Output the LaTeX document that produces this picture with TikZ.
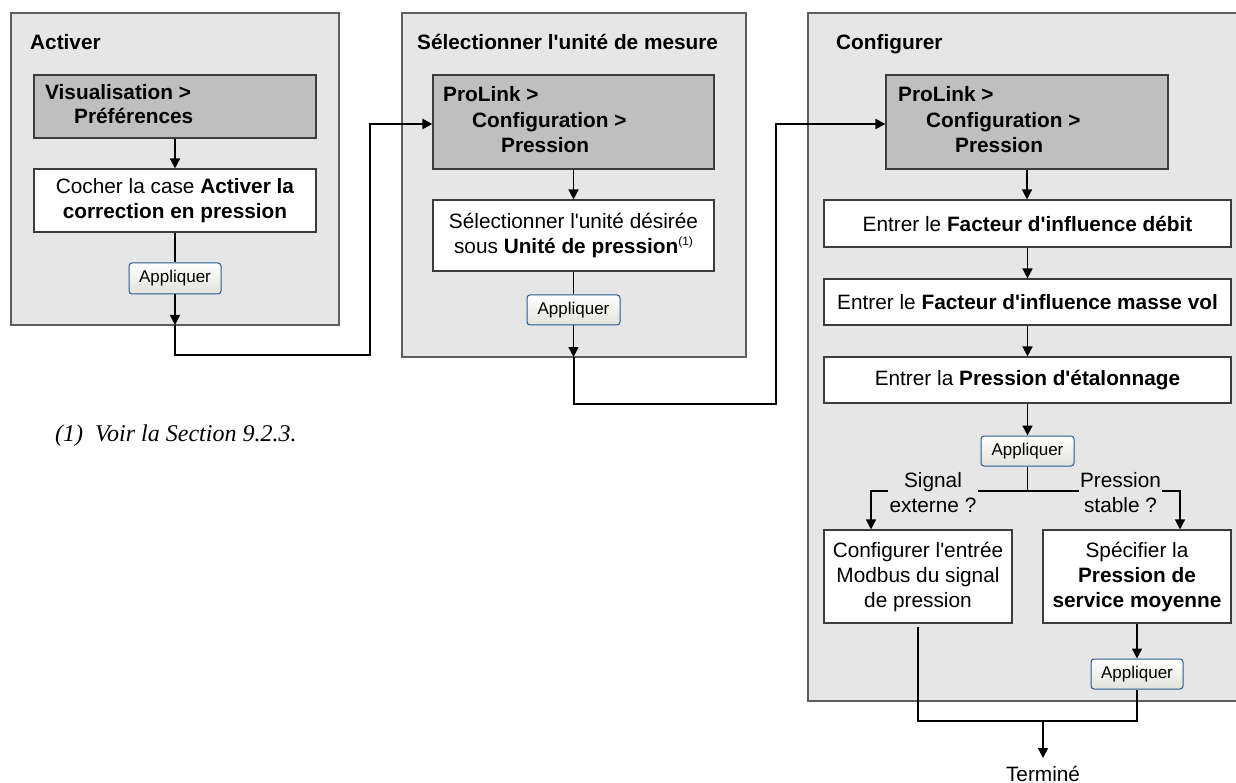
\documentclass[tikz,border=0pt]{standalone}
\usepackage{fontspec}
\setmainfont{Liberation Sans}[Ligatures=TeXOff]
\newfontfamily\serifit{Liberation Serif}
\usetikzlibrary{arrows.meta}
\definecolor{panelfill}{HTML}{E6E6E6}
\definecolor{panelline}{HTML}{5E5E5E}
\definecolor{grayfill}{HTML}{BFBFBF}
\definecolor{boxline}{HTML}{3C3C3C}
\definecolor{btnline}{HTML}{2A5A8C}
\definecolor{btnbot}{HTML}{E2E2DA}
\begin{document}
\begin{tikzpicture}[x=1pt,y=-1pt,
  txt/.style={font=\fontsize{20.8}{25}\selectfont},
  panel/.style={draw=panelline,fill=panelfill,line width=1.6pt},
  graybox/.style={draw=boxline,fill=grayfill,line width=1.1pt,inner sep=0pt},
  whitebox/.style={draw=boxline,fill=white,line width=1.1pt,inner sep=0pt,align=center,txt},
  btn/.style={draw=btnline,line width=1pt,rounded corners=3pt,top color=white,bottom color=btnbot,
     inner sep=0pt,font=\fontsize{17}{20}\selectfont},
  title/.style={anchor=base west,inner sep=0pt,font=\bfseries\fontsize{20.8}{25}\selectfont},
  arr/.style={line width=1.4pt,draw=black,-{Triangle[length=10pt,width=10pt]}},
  conn/.style={line width=1.4pt,draw=black},
  outer/.style={line width=2pt,draw=black,-{Triangle[length=10pt,width=10pt]}},
  lbl/.style={fill=panelfill,inner xsep=1.5pt,inner ysep=0pt,align=center,txt}
]
\useasboundingbox (0,0) rectangle (1236,783);
\clip (0,0) rectangle (1236,783);
\fill[white] (0,0) rectangle (1236,783);

% panels
\draw[panel] (11,13) rectangle (339,325);
\draw[panel] (402,13) rectangle (746,357);
\draw[panel] (808,13) rectangle (1260,701);

\node[title] (t1) at (30,50) {Activer};
\node[title] (t2) at (417,50) {Sélectionner l'unité de mesure};
\node[title] (t3) at (836,50) {Configurer};

% panel 1
\node[graybox,minimum width=282,minimum height=63] (G1) at (175,106.5) {};
\node[title] (g1a) at (45,100) {Visualisation >};
\node[title] (g1b) at (74,124) {Préférences};
\node[whitebox,minimum width=282,minimum height=63] (W1) at (175,200.5)
  {Cocher la case \textbf{Activer la}\\\textbf{correction en pression}};
\node[btn,minimum width=92,minimum height=31] (B1) at (175,278.5) {Appliquer};

% panel 2
\node[graybox,minimum width=281,minimum height=94] (G2) at (573.5,122) {};
\node[title] (g2a) at (443,102) {ProLink >};
\node[title] (g2b) at (472,128) {Configuration >};
\node[title] (g2c) at (501,153) {Pression};
\node[whitebox,minimum width=281,minimum height=71] (W2) at (573.5,235.5)
  {Sélectionner l'unité désirée\\sous \textbf{Unité de pression}\raisebox{8pt}{\fontsize{12}{12}\selectfont(1)}};
\node[btn,minimum width=93,minimum height=30] (B2) at (573.5,310) {Appliquer};

% panel 3
\node[graybox,minimum width=282,minimum height=94] (G3) at (1027,122) {};
\node[title] (g3a) at (898,102) {ProLink >};
\node[title] (g3b) at (926,128) {Configuration >};
\node[title] (g3c) at (955,153) {Pression};
\node[whitebox,minimum width=407,minimum height=47] (E1) at (1027.5,223.5)
  {Entrer le \textbf{Facteur d'influence débit}};
\node[whitebox,minimum width=407,minimum height=46] (E2) at (1027.5,302)
  {Entrer le \textbf{Facteur d'influence masse vol}};
\node[whitebox,minimum width=407,minimum height=46] (E3) at (1027.5,380)
  {Entrer la \textbf{Pression d'étalonnage}};
\node[btn,minimum width=93,minimum height=30] (B3) at (1027.5,451) {Appliquer};
\node[whitebox,minimum width=188,minimum height=93] (L1) at (918,576.5)
  {Configurer l'entrée\\Modbus du signal\\de pression};
\node[whitebox,minimum width=188,minimum height=93] (R1) at (1137,576.5)
  {Spécifier la\\\textbf{Pression de}\\\textbf{service moyenne}};
\node[btn,minimum width=92,minimum height=30] (B4) at (1137,674) {Appliquer};

% connectors panel 1
\draw[arr] (G1.south) -- (W1.north);
\draw[conn] (W1.south) -- (B1.north);
\coordinate (p1) at (175,325);
\draw[arr] (B1.south) -- (p1);
\coordinate (c1a) at (175,355);
\coordinate (c1b) at (370,124);
\draw[outer] (p1) -- (c1a) -| (c1b) -- (c1b -| G2.west);

% connectors panel 2
\draw[arr] (G2.south) -- (W2.north);
\draw[conn] (W2.south) -- (B2.north);
\coordinate (p2) at (573.5,357);
\draw[arr] (B2.south) -- (p2);
\coordinate (c2a) at (573.5,404);
\coordinate (c2b) at (776,124);
\draw[outer] (p2) -- (c2a) -| (c2b) -- (c2b -| G3.west);

% connectors panel 3
\draw[arr] (G3.south) -- (G3.south |- E1.north);
\draw[arr] (E1.south) -- (E1.south |- E2.north);
\draw[arr] (E2.south) -- (E2.south |- E3.north);
\draw[arr] (E3.south) -- (E3.south |- B3.north);
\coordinate (sp) at (1027.5,491);
\coordinate (sl) at (871,491);
\coordinate (sr) at (1180,491);
\draw[conn] (B3.south) -- (sp);
\draw[arr] (sp) -- (sl) -- (sl |- L1.north);
\draw[arr] (sp) -- (sr) -- (sr |- R1.north);
\node[lbl] (lab1) at (933,493) {Signal\\externe ?};
\node[lbl] (lab2) at (1120.5,493) {Pression\\stable ?};
\draw[arr] (R1.south) -- (B4.north);

\coordinate (m1) at (918,627);
\coordinate (m2) at (918,721);
\coordinate (mg) at (1043,721);
\draw[conn] (m1) -- (m2) -- (m2 -| B4.south) -- (B4.south);
\node[txt,anchor=base,inner sep=0pt] (T) at (1043,781) {Terminé};
\draw[arr] (mg) -- (1043,758);

% footnote
\node[anchor=base west,inner sep=0pt,font=\serifit\itshape\fontsize{24}{28}\selectfont] (fn1) at (55,441.7) {(1)};
\node[anchor=base west,inner sep=0pt,font=\serifit\itshape\fontsize{24}{28}\selectfont] (fn2) at (95,441.7) {Voir la Section 9.2.3.};
\end{tikzpicture}
\end{document}
